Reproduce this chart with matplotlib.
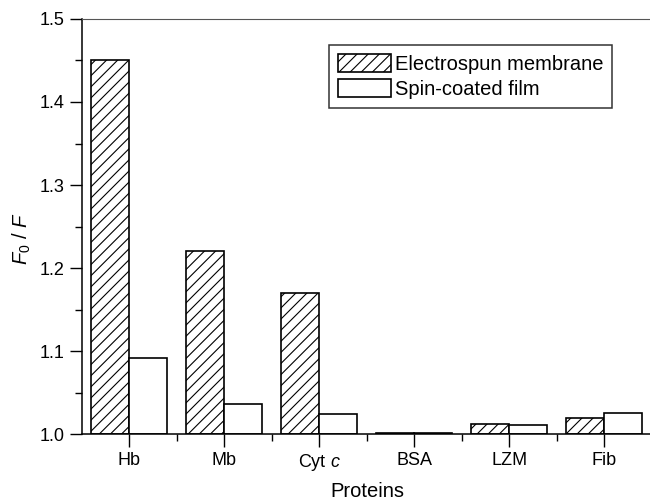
import numpy as np
import matplotlib
matplotlib.use("Agg")
import matplotlib.pyplot as plt
from matplotlib.ticker import MultipleLocator, FixedLocator, FormatStrFormatter

plt.rcParams["font.family"] = ["Liberation Sans", "DejaVu Sans"]
plt.rcParams["mathtext.fontset"] = "custom"
plt.rcParams["mathtext.rm"] = "Liberation Sans"
plt.rcParams["mathtext.it"] = "Liberation Sans:italic"
plt.rcParams["hatch.linewidth"] = 0.8

# quenching ratio F0/F per protein
proteins = ["Hb", "Mb", "Cyt $c$", "BSA", "LZM", "Fib"]
electrospun = [1.450, 1.220, 1.170, 1.001, 1.012, 1.019]
spin_coated = [1.092, 1.036, 1.024, 1.001, 1.011, 1.025]

x = np.arange(len(proteins))
w = 0.4
base = 1.0

fig = plt.figure(figsize=(6.5, 4.99), dpi=100)
ax = fig.add_axes([0.126, 0.130, 0.877, 0.832])

ax.bar(x - w / 2, np.array(electrospun) - base, w, bottom=base,
       facecolor="white", edgecolor="black", hatch="///", linewidth=1.2,
       label="Electrospun membrane")
ax.bar(x + w / 2, np.array(spin_coated) - base, w, bottom=base,
       facecolor="white", edgecolor="black", linewidth=1.2,
       label="Spin-coated film")

ax.set_xlim(-0.5, len(proteins) - 0.5)
ax.set_ylim(1.0, 1.5)
ax.set_xticks(x)
ax.set_xticklabels(proteins)
ax.xaxis.set_minor_locator(FixedLocator(x[:-1] + 0.5))
ax.yaxis.set_major_locator(MultipleLocator(0.1))
ax.yaxis.set_minor_locator(MultipleLocator(0.05))
ax.yaxis.set_major_formatter(FormatStrFormatter("%.1f"))

ax.tick_params(which="major", direction="out", length=9, width=1.0,
               labelsize=13, colors="black")
ax.tick_params(axis="x", which="major", pad=4)
ax.tick_params(which="minor", direction="out", length=5, width=1.0)

ax.spines["right"].set_visible(False)
ax.spines["top"].set_color("#555555")
ax.spines["left"].set_linewidth(1.1)
ax.spines["bottom"].set_linewidth(1.1)

ax.set_xlabel("Proteins", fontsize=14.5, labelpad=6)
ax.set_ylabel("$F_0$ / $F$", fontsize=14.5)
ax.yaxis.set_label_coords(-0.085, 0.47)

leg = ax.legend(loc="upper right", bbox_to_anchor=(0.948, 0.962),
                fontsize=14.5, frameon=True, fancybox=False,
                edgecolor="black", handlelength=2.6, handleheight=1.0,
                handletextpad=0.2, borderpad=0.45, labelspacing=0.25)
leg.get_frame().set_linewidth(1.1)

fig.savefig("out.png", dpi=100)
